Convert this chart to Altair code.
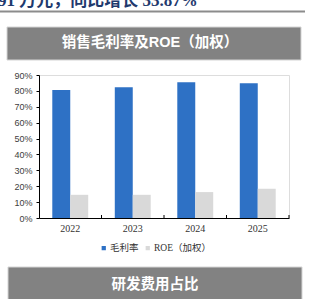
import altair as alt
import pandas as pd

years = ["2022", "2023", "2024", "2025"]
gross_margin = [0.806, 0.823, 0.854, 0.848]
roe_weighted = [0.146, 0.146, 0.163, 0.184]
series_names = ["毛利率", "ROE（加权）"]
y_ticks = [0.0, 0.1, 0.2, 0.3, 0.4, 0.5, 0.6, 0.7, 0.8, 0.9]

headline = ["91 万元，同比增长 33.87%"]
section_titles = ["销售毛利率及ROE（加权）", "研发费用占比"]

rows = []
for i, yr in enumerate(years):
    rows.append({"year": yr, "series": series_names[0], "value": gross_margin[i]})
    rows.append({"year": yr, "series": series_names[1], "value": roe_weighted[i]})
df = pd.DataFrame(rows)

W, H = 250, 143
LEFT, TOP = 39, 75

x_axis = alt.Axis(title=None, labelAngle=0, ticks=False, domainColor="#000000",
                  labelFont="Liberation Serif", labelFontSize=10, labelColor="#333333",
                  labelPadding=5)
x_enc = alt.X("year:N", sort=years, scale=alt.Scale(paddingInner=0, paddingOuter=0), axis=x_axis)

bars = alt.Chart(df).mark_bar().encode(
    x=x_enc,
    xOffset=alt.XOffset("series:N", sort=series_names,
                        scale=alt.Scale(domain=series_names, paddingInner=0, paddingOuter=0.74)),
    y=alt.Y("value:Q", scale=alt.Scale(domain=[0, 0.9], nice=False),
            axis=alt.Axis(values=y_ticks, format=".0%", title=None, grid=False,
                          tickSize=3, tickColor="#000000", domainColor="#000000",
                          labelFont="Liberation Sans", labelFontSize=9,
                          labelColor="#404040", labelPadding=4)),
    color=alt.Color("series:N", sort=series_names,
                    scale=alt.Scale(domain=series_names, range=["#2E71C5", "#D9D9D9"]),
                    legend=alt.Legend(title=None, orient="none", legendX=60, legendY=168,
                                      direction="horizontal", symbolType="square",
                                      symbolSize=18, symbolStrokeWidth=0,
                                      labelFont="Liberation Serif, Noto Sans CJK SC",
                                      labelFontSize=9.5, labelColor="#333333",
                                      columnPadding=4, labelOffset=1.5)),
)

tick_df = pd.DataFrame({"year": years})
xticks = alt.Chart(tick_df).mark_rule(color="#000000", strokeWidth=1).encode(
    x=alt.X("year:N", sort=years, bandPosition=1, axis=x_axis),
    y=alt.value(H - 3),
    y2=alt.value(H),
)

head_df = pd.DataFrame({"t": headline})
head_text = alt.Chart(head_df).mark_text(
    font="Liberation Serif, Noto Sans CJK SC", fontSize=17, fontWeight="bold",
    color="#1F3A6E", align="left", baseline="alphabetic"
).encode(text="t:N", x=alt.value(-41), y=alt.value(-69))

top_line = alt.Chart(head_df).mark_rule(color="#8C8C8C", strokeWidth=2).encode(
    x=alt.value(-39), x2=alt.value(266), y=alt.value(-63.5))

box1 = alt.Chart(head_df).mark_rect(fill="#828282", stroke="#D4D4D4", strokeWidth=1).encode(
    x=alt.value(-32), x2=alt.value(262), y=alt.value(-48), y2=alt.value(-15))
box2 = alt.Chart(head_df).mark_rect(fill="#828282", stroke="#D4D4D4", strokeWidth=1).encode(
    x=alt.value(-31), x2=alt.value(263), y=alt.value(192), y2=alt.value(235))

t1_df = pd.DataFrame({"t": [section_titles[0]]})
t2_df = pd.DataFrame({"t": [section_titles[1]]})
title1 = alt.Chart(t1_df).mark_text(
    font="Liberation Sans, Noto Sans CJK SC", fontSize=14.5, fontWeight="bold",
    color="#FFFFFF", align="center", baseline="middle"
).encode(text="t:N", x=alt.value(111), y=alt.value(-32))
title2 = alt.Chart(t2_df).mark_text(
    font="Noto Sans CJK SC", fontSize=14.5, fontWeight="bold",
    color="#FFFFFF", align="center", baseline="middle"
).encode(text="t:N", x=alt.value(116), y=alt.value(210))

chart = alt.layer(head_text, top_line, box1, box2, title1, title2, bars, xticks).properties(
    width=W, height=H,
    padding={"left": LEFT, "top": TOP, "right": 309 - LEFT - W, "bottom": 299 - TOP - H},
    autosize=alt.AutoSizeParams(type="none"),
).configure_view(stroke=None).configure(background="#FFFFFF")

chart.save("out.html", embed_options={"renderer": "svg", "actions": False})
